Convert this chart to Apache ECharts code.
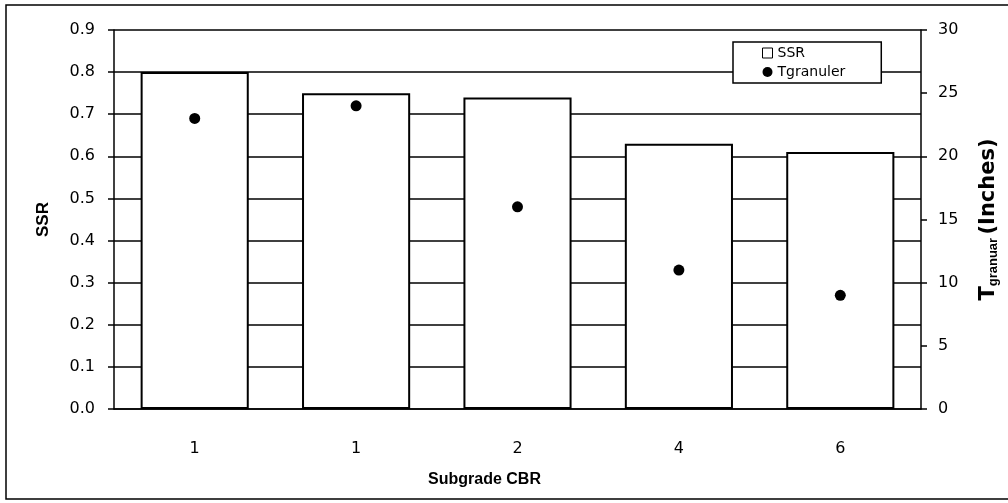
<!DOCTYPE html>
<html><head><meta charset="utf-8">
<script src="https://cdn.jsdelivr.net/npm/echarts@6/dist/echarts.min.js"></script>
<style>html,body{margin:0;padding:0;background:#fff}#c{width:1008px;height:503px}</style>
</head><body><div id="c"></div>
<script>
const categories = ['1', '1', '2', '4', '6'];
const ssrValues = [0.80, 0.75, 0.74, 0.63, 0.61];
const tGranular = [23, 24, 16, 11, 9];
const ssrTicks = [0, 0.1, 0.2, 0.3, 0.4, 0.5, 0.6, 0.7, 0.8, 0.9];
const tTicks = [0, 5, 10, 15, 20, 25, 30];

const F = 'Liberation Sans, Arial, sans-serif';
const T = 'DejaVu Sans, sans-serif';
const chart = echarts.init(document.getElementById('c'));
chart.setOption({
  backgroundColor: '#fff',
  animation: false,
  textStyle: { fontFamily: F, color: '#000' },
  grid: { left: 114, right: 84, top: 30, bottom: 94 },
  graphic: [{
    type: 'rect', silent: true,
    shape: { x: 6, y: 5, width: 1010, height: 494 },
    style: { fill: 'none', stroke: '#000', lineWidth: 1.5 }
  }],
  legend: {
    left: 733, top: 42,
    orient: 'vertical',
    backgroundColor: '#fff',
    borderColor: '#000', borderWidth: 1.5,
    padding: [4, 36, 4, 29],
    itemGap: 5,
    itemWidth: 10, itemHeight: 10,
    textStyle: { fontFamily: T, fontSize: 14, color: '#000' },
    data: [
      { name: 'SSR', icon: 'rect', itemStyle: { color: '#fff', borderColor: '#000', borderWidth: 1 } },
      { name: 'Tgranuler', icon: 'circle', itemStyle: { color: '#000' } }
    ]
  },
  xAxis: {
    type: 'category', data: categories,
    name: 'Subgrade CBR', nameLocation: 'middle', nameGap: 63,
    nameTextStyle: { fontFamily: F, fontSize: 16, fontWeight: 'bold', color: '#000', padding: [0, 66, 0, 0] },
    axisLine: { lineStyle: { color: '#000', width: 1.5 } },
    axisTick: { show: false },
    axisLabel: { margin: 32, fontSize: 16, color: '#000', fontFamily: T }
  },
  yAxis: [{
    type: 'value', min: 0, max: 0.9, interval: 0.1,
    name: 'SSR', nameLocation: 'middle', nameGap: 62, nameRotate: 90,
    nameTextStyle: { fontFamily: F, fontSize: 17, fontWeight: 'bold', color: '#000' },
    axisLine: { show: true, lineStyle: { color: '#000', width: 1.5 } },
    axisTick: { show: true, length: 6, lineStyle: { color: '#000', width: 1.5 } },
    axisLabel: { fontSize: 16, color: '#000', fontFamily: T, margin: 19,
      formatter: v => v.toFixed(1) },
    splitLine: { show: true, lineStyle: { color: '#000', width: 1.5 } }
  }, {
    type: 'value', min: 0, max: 30, interval: 5,
    position: 'right',
    name: '{a|T}{b|granuar} {a|(Inches)}', nameLocation: 'middle', nameGap: 56, nameRotate: 90,
    nameTextStyle: {
      fontFamily: F, color: '#000',
      rich: {
        a: { fontFamily: T, fontSize: 21, fontWeight: 'bold', color: '#000' },
        b: { fontFamily: F, fontSize: 13, fontWeight: 'bold', color: '#000', verticalAlign: 'bottom', padding: [10, 0, 0, 0] }
      }
    },
    axisLine: { show: true, lineStyle: { color: '#000', width: 1.5 } },
    axisTick: { show: true, length: 6, lineStyle: { color: '#000', width: 1.5 } },
    axisLabel: { fontSize: 16, color: '#000', fontFamily: T, margin: 17 },
    splitLine: { show: false }
  }],
  series: [{
    name: 'SSR', type: 'bar', data: ssrValues,
    barCategoryGap: '33%',
    itemStyle: { color: '#fff', borderColor: '#000', borderWidth: 2 }
  }, {
    name: 'Tgranuler', type: 'scatter', yAxisIndex: 1, data: tGranular,
    symbol: 'circle', symbolSize: 11,
    itemStyle: { color: '#000', opacity: 1 }
  }]
});
</script></body></html>
